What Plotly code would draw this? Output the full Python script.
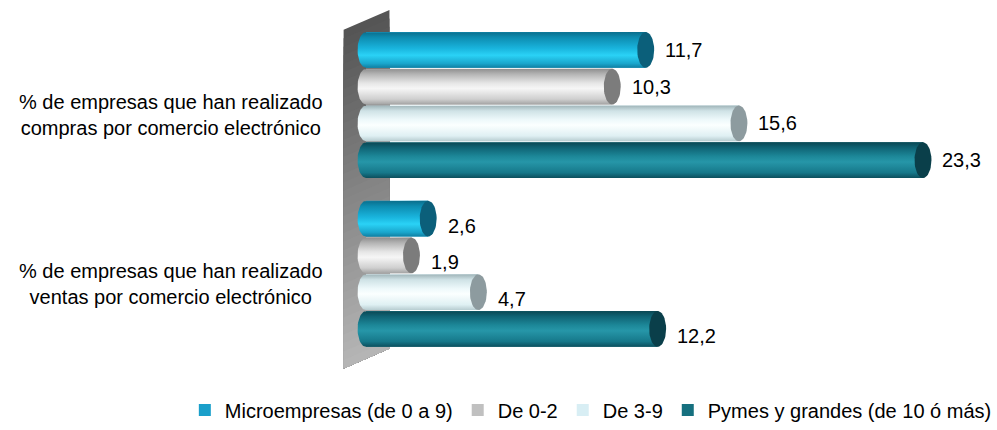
import numpy as np
import plotly.graph_objects as go

# ---- data -------------------------------------------------------------
categories = [
    "% de empresas que han realizado<br>compras por comercio electrónico",
    "% de empresas que han realizado<br>ventas por comercio electrónico",
]
series_names = [
    "Microempresas (de 0 a 9)",
    "De 0-2",
    "De 3-9",
    "Pymes y grandes (de 10 ó más)",
]
micro = [11.7, 2.6]
de_0_2 = [10.3, 1.9]
de_3_9 = [15.6, 4.7]
pymes = [23.3, 12.2]
series_values = [micro, de_0_2, de_3_9, pymes]

# ---- styles -----------------------------------------------------------
legend_colors = ["#1a9fca", "#c0c0c0", "#d8eef4", "#16707f"]
cap_colors = ["#0b5f7a", "#7c7c7c", "#8d9b9f", "#0a3f4a"]
# cylinder shading, listed from the top edge to the bottom edge
shading = [
    [(0, "#0f7fa2"), (0.12, "#1aa6cc"), (0.35, "#2ad2f6"), (0.55, "#19b3dc"), (0.85, "#0d8cb0"), (1, "#0a6e8c")],
    [(0, "#a2a2a2"), (0.15, "#cfcfcf"), (0.45, "#f6f6f6"), (0.6, "#e6e6e6"), (0.85, "#b4b4b4"), (1, "#8e8e8e")],
    [(0, "#b7ccd0"), (0.15, "#dff0f3"), (0.45, "#fbffff"), (0.6, "#eef9fb"), (0.85, "#cfe2e6"), (1, "#9fb4b8")],
    [(0, "#0c4f5d"), (0.15, "#16788a"), (0.45, "#2696a8"), (0.6, "#1d8899"), (0.85, "#0f6374"), (1, "#0a4753")],
]
FONT = "Liberation Sans, Arial, sans-serif"
label_drop_px = [0, 7]   # value labels sit a little lower in the second group

# ---- geometry (pixels) ------------------------------------------------
W, H = 997, 430
X0_PX = 367.5          # where value 0 sits
PX_PER_UNIT = 24.0     # horizontal scale
G0_PX = 105.75         # centre of the first category group
G_PITCH = 170.0        # distance between groups
B_PITCH = 37.0         # distance between bars inside a group
B_H = 36.0             # bar thickness
CAP_A_PX = 8.5         # half-width of the elliptical ends

x_range = [-X0_PX / PX_PER_UNIT, (W - X0_PX) / PX_PER_UNIT]
y_range = [(H - G0_PX) / G_PITCH, -G0_PX / G_PITCH]  # reversed: first group on top
bar_h = B_H / G_PITCH
cap_a = CAP_A_PX / PX_PER_UNIT
n_series = len(series_names)


def bar_pos(ci, si):
    return ci + (si - (n_series - 1) / 2) * B_PITCH / G_PITCH


fig = go.Figure()

# the bars themselves (also carry the legend)
for si, (name, vals) in enumerate(zip(series_names, series_values)):
    fig.add_trace(go.Bar(
        name=name,
        orientation="h",
        x=vals,
        y=[bar_pos(ci, si) for ci in range(len(categories))],
        width=bar_h,
        marker=dict(color=legend_colors[si], line=dict(width=0)),
        hoverinfo="skip",
    ))

# cylinder bodies and end caps drawn over each bar
t_left = np.linspace(np.pi / 2, 3 * np.pi / 2, 30)
t_full = np.linspace(0, 2 * np.pi, 60)
for si, vals in enumerate(series_values):
    for ci, v in enumerate(vals):
        yc = bar_pos(ci, si)
        hh = bar_h / 2
        # body: straight top/bottom, rounded left end
        bx = [v, 0] + list(cap_a * np.cos(t_left)) + [0, v, v]
        by = [yc - hh, yc - hh] + list(yc - hh * np.sin(t_left)) + [yc + hh, yc + hh, yc - hh]
        fig.add_trace(go.Scatter(
            x=bx, y=by, mode="lines", fill="toself",
            line=dict(width=0), showlegend=False, hoverinfo="skip",
            fillgradient=dict(type="vertical", colorscale=shading[si]),
        ))
        # right end cap
        fig.add_trace(go.Scatter(
            x=list(v + cap_a * np.cos(t_full)), y=list(yc + hh * np.sin(t_full)),
            mode="lines", fill="toself", fillcolor=cap_colors[si],
            line=dict(width=0), showlegend=False, hoverinfo="skip",
        ))
        # value label
        fig.add_annotation(
            x=v, y=yc, xref="x", yref="y", text=f"{v:.1f}".replace(".", ","),
            showarrow=False, xanchor="left", yanchor="middle",
            xshift=CAP_A_PX + 9, yshift=-label_drop_px[ci],
            font=dict(family=FONT, size=20, color="#000000"),
        )

# category labels
for ci, cat in enumerate(categories):
    fig.add_annotation(
        x=171.5 / W, y=ci + 10 / G_PITCH, xref="paper", yref="y", text=cat,
        showarrow=False, xanchor="center", yanchor="middle", align="center",
        font=dict(family=FONT, size=20, color="#000000"),
    )

# back wall: a slanted grey panel shaded dark at the top to light at the bottom
wall_l, wall_r = 345, 391
top_l, top_r = 30, 10
bot_l, bot_r = 371, 351
n_strips = 40
c_top = np.array([0x55, 0x55, 0x55])
c_bot = np.array([0xb8, 0xb8, 0xb8])
shapes = []
for i in range(n_strips):
    f = i / n_strips
    yl = top_l + f * (bot_l - top_l)
    yr = top_r + f * (bot_r - top_r)
    c = (c_top + (c_bot - c_top) * f).astype(int)
    path = (f"M {wall_l / W:.5f},{1 - yl / H:.5f} L {wall_r / W:.5f},{1 - yr / H:.5f} "
            f"L {wall_r / W:.5f},{1 - bot_r / H:.5f} L {wall_l / W:.5f},{1 - bot_l / H:.5f} Z")
    shapes.append(dict(type="path", xref="paper", yref="paper", path=path,
                       fillcolor=f"rgb({c[0]},{c[1]},{c[2]})", line=dict(width=0),
                       layer="below"))

fig.update_layout(
    width=W, height=H,
    margin=dict(l=0, r=0, t=0, b=0),
    paper_bgcolor="white", plot_bgcolor="white",
    barmode="overlay",
    shapes=shapes,
    xaxis=dict(range=x_range, visible=False, fixedrange=True),
    yaxis=dict(range=y_range, visible=False, fixedrange=True),
    legend=dict(
        orientation="h", x=0.595, xanchor="center", y=1 - 413 / H, yanchor="middle",
        font=dict(family=FONT, size=20, color="#000000"),
        itemwidth=30, traceorder="normal", bgcolor="rgba(0,0,0,0)",
    ),
    showlegend=True,
)

fig.write_html("out.html")
